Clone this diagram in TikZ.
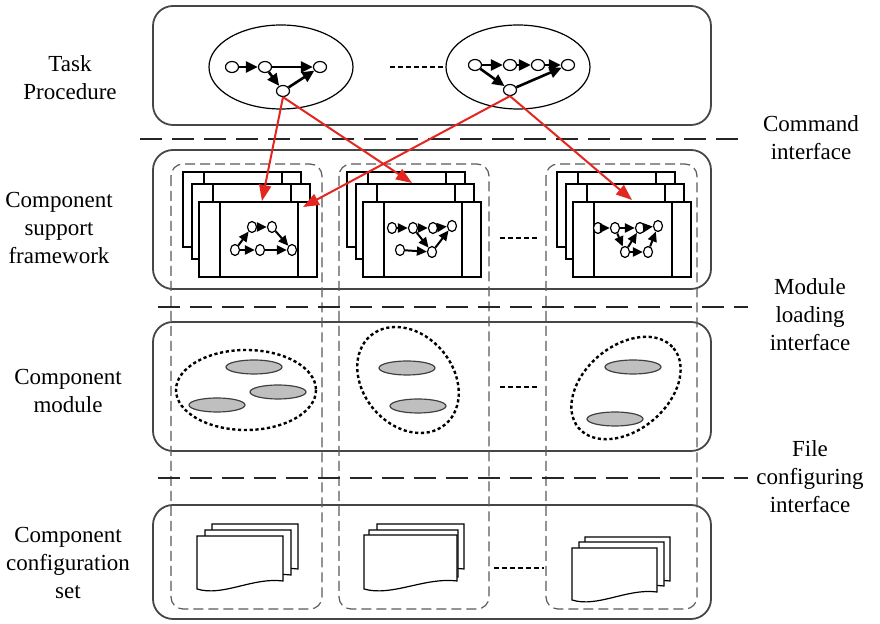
\documentclass[tikz,border=0pt]{standalone}
\usepackage{fontspec}
\setmainfont{Liberation Serif}
\usetikzlibrary{arrows.meta, positioning, shapes.geometric}
\definecolor{linkred}{RGB}{228,38,32}
\definecolor{boxgray}{RGB}{70,70,70}

\begin{document}
\begin{tikzpicture}[
    x=0.5pt, y=-0.5pt,
    layer/.style={draw=boxgray, line width=0.9pt, rounded corners=10pt},
    col/.style={draw=black!65, line width=0.6pt, dash pattern=on 5pt off 2.5pt, rounded corners=6pt},
    iface/.style={draw=black!85, line width=1.3pt, dash pattern=on 11pt off 5pt},
    lbl/.style={align=center, font=\fontsize{11.5}{14}\selectfont},
    proc/.style={draw, ellipse, line width=0.6pt, minimum width=72pt, minimum height=42pt},
    gnode/.style={draw, ellipse, fill=white, inner sep=0pt, minimum width=6.5pt, minimum height=5.5pt, line width=0.6pt},
    snode/.style={gnode, minimum width=4.5pt, minimum height=5.5pt},
    garr/.style={-{Triangle[length=6pt, width=5.5pt]}, line width=1.3pt},
    sarr/.style={-{Triangle[length=5pt, width=4.5pt]}, line width=1pt},
    redarr/.style={-{Triangle[length=8pt, width=6pt]}, draw=linkred, line width=1pt},
    card/.style={draw, fill=white, line width=0.7pt},
    sheet/.style={draw, fill=white, line width=0.6pt},
    dots/.style={line width=1.1pt, dash pattern=on 2.5pt off 1.5pt},
    modring/.style={draw, line width=1.2pt, dash pattern=on 1.6pt off 1.3pt},
    modpart/.style={draw=black!75, fill=black!25, line width=0.6pt}
]
\useasboundingbox (0,0) rectangle (880,624);

% layers
\draw[layer] (153,6) rectangle (711,125);
\draw[layer] (153,150) rectangle (711,289);
\draw[layer] (153,322) rectangle (711,451);
\draw[layer] (153,505) rectangle (711,619);

% columns
\draw[col] (171,164) rectangle (322,609);
\draw[col] (339,164) rectangle (489,609);
\draw[col] (546,164) rectangle (697,609);

% interfaces
\coordinate (cmdL) at (140,139);
\coordinate (cmdR) at (748,139);
\coordinate (loadL) at (158,307);
\coordinate (loadR) at (748,307);
\coordinate (fileL) at (158,478);
\coordinate (fileR) at (748,478);
\draw[iface] (cmdL) -- (cmdR);
\draw[iface] (loadL) -- (loadR);
\draw[iface] (fileL) -- (fileR);

% labels
\node[lbl] (tasklbl) at (70,78) {Task\\Procedure};
\node[lbl] (framelbl) at (59,228) {Component\\support\\framework};
\node[lbl] (modlbl) at (68,391) {Component\\module};
\node[lbl] (conflbl) at (68,563) {Component\\configuration\\set};
\node[lbl] (cmdlbl) at (811,138) {Command\\interface};
\node[lbl] (loadlbl) at (810,315) {Module\\loading\\interface};
\node[lbl] (filelbl) at (810,477) {File\\configuring\\interface};

% task procedures
\node[proc] (proc1) at (281,67) {};
\node[proc] (proc2) at (518,67) {};
\coordinate (sepT) at (390,67);
\draw[dots] (sepT) -- (proc2.west);

\node[gnode] (t1) at (232,67) {};
\node[gnode] (t2) at (265,67) {};
\node[gnode] (t3) at (320,67) {};
\node[gnode] (t4) at (283,91) {};
\draw[garr] (t1) -- (t2);
\draw[garr] (t2) -- (t3);
\draw[garr] (t2) -- (t4);
\draw[garr] (t4) -- (t3);

\node[gnode] (u1) at (475,65) {};
\node[gnode] (u2) at (510,65) {};
\node[gnode] (u3) at (538,65) {};
\node[gnode] (u4) at (568,65) {};
\node[gnode] (u5) at (510,90) {};
\draw[garr] (u1) -- (u2);
\draw[garr] (u2) -- (u3);
\draw[garr] (u3) -- (u4);
\draw[garr] (u1) -- (u5);
\draw[garr] (u5) -- (u4);

% framework cards
\foreach \cx in {183,347,557}
  \foreach \dx/\dy in {0/0,9/12,16/30} {
    \draw[card] (\cx+\dx,172+\dy) rectangle ++(118,75);
    \draw[card] (\cx+\dx+21,172+\dy) -- ++(0,75) (\cx+\dx+99,172+\dy) -- ++(0,75);
  }
\coordinate (sepF1) at (500,238);
\coordinate (sepF2) at (540,238);
\draw[dots] (sepF1) -- (sepF2);

\node[snode] (m1) at (252,227) {};
\node[snode] (m2) at (272,227) {};
\node[snode] (m3) at (235,250) {};
\node[snode] (m4) at (260,250) {};
\node[snode] (m5) at (292,250) {};
\draw[sarr] (m1) -- (m2);
\draw[sarr] (m3) -- (m1);
\draw[sarr] (m3) -- (m4);
\draw[sarr] (m4) -- (m5);
\draw[sarr] (m2) -- (m5);

\node[snode] (p1) at (392,228) {};
\node[snode] (p2) at (413,228) {};
\node[snode] (p3) at (433,228) {};
\node[snode] (p4) at (452,226) {};
\node[snode] (p5) at (400,250) {};
\node[snode] (p6) at (432,252) {};
\draw[sarr] (p1) -- (p2);
\draw[sarr] (p2) -- (p3);
\draw[sarr] (p3) -- (p4);
\draw[sarr] (p2) -- (p6);
\draw[sarr] (p5) -- (p6);
\draw[sarr] (p6) -- (p4);

\node[snode] (q1) at (598,228) {};
\node[snode] (q2) at (615,228) {};
\node[snode] (q3) at (640,228) {};
\node[snode] (q4) at (658,226) {};
\node[snode] (q5) at (625,252) {};
\node[snode] (q6) at (648,252) {};
\draw[sarr] (q1) -- (q2);
\draw[sarr] (q2) -- (q3);
\draw[sarr] (q3) -- (q4);
\draw[sarr] (q2) -- (q5);
\draw[sarr] (q5) -- (q3);
\draw[sarr] (q5) -- (q6);
\draw[sarr] (q6) -- (q4);

% component modules
\draw[modring] (246,390) ellipse [x radius=70, y radius=40];
\draw[modring, rotate around={-50:(408,380)}] (408,380) ellipse [x radius=58, y radius=45];
\draw[modring, rotate around={40:(626,388)}] (626,388) ellipse [x radius=62, y radius=42];
\foreach \ex/\ey in {254/367, 278/392, 217/405, 407/368, 418/406, 633/367, 615/419}
  \draw[modpart] (\ex,\ey) ellipse [x radius=28, y radius=7];
\coordinate (sepM1) at (500,387);
\coordinate (sepM2) at (540,387);
\draw[dots] (sepM1) -- (sepM2);

% configuration files
\foreach \fx/\fy/\fw/\fh in {212/524/86/53, 205/530/86/53, 197/536/86/53,
    377/524/87/53, 369/530/89/55, 364/535/93/54,
    585/537/85/52, 579/542/85/52, 572/548/85/52}
  \draw[sheet] (\fx,\fy) -- (\fx+\fw,\fy) -- (\fx+\fw,\fy+\fh-8)
    .. controls (\fx+0.65*\fw,\fy+\fh-12) and (\fx+0.3*\fw,\fy+\fh+8) .. (\fx,\fy+\fh) -- cycle;
\coordinate (sepC1) at (494,568);
\coordinate (sepC2) at (544,568);
\draw[dots] (sepC1) -- (sepC2);

% commands
\coordinate (hit1) at (262,201);
\coordinate (hit2) at (412,183);
\coordinate (hit3) at (303,207);
\coordinate (hit4) at (632,200);
\draw[redarr] (t4.south) -- (hit1);
\draw[redarr] (t4.south) -- (hit2);
\draw[redarr] (u5.south) -- (hit3);
\draw[redarr] (u5.south) -- (hit4);
\end{tikzpicture}
\end{document}
